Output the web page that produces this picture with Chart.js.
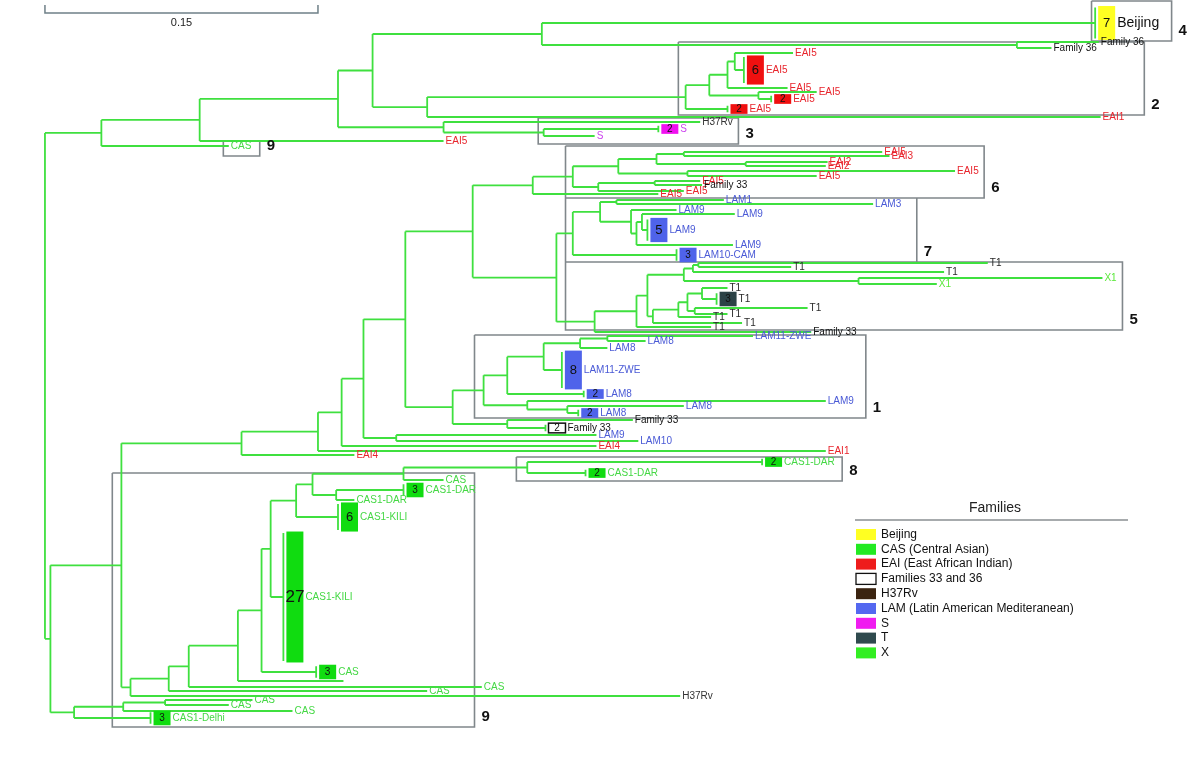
<!DOCTYPE html>
<html>
<head>
<meta charset="utf-8">
<title>Families tree</title>
<script src="https://cdn.jsdelivr.net/npm/chart.js@4.4.1/dist/chart.umd.min.js"></script>
<style>
  html, body { margin: 0; padding: 0; background: #fff; }
  #tree { display: block; }
</style>
</head>
<body>
<canvas id="tree" width="1200" height="781"></canvas>
<script>
// distances are in 0.001 substitutions per site, rows are vertical positions of the tips

// internal nodes (row of an internal node = middle of its children)
const innerIds = [
  'r', 'a1', 'a2', 'a3', 'a4', 'b1', 'b2', 'b3', 'c1', 'c2', 'c3', 'c4', 'c5', 'a9', 'a10',
  'd1', 'd2', 'e1', 'e2', 'e3', 'e4', 'e5', 'g1', 'h1', 'i1', 'i2', 'i3', 'i4', 'i5a', 'i5b', 'i6', 'i7', 'i8',
  'j1', 'j2', 'j3', 'j4', 'j5', 'j6', 'j7', 'l1', 'l2', 'l3', 'l4', 'l5', 'l6', 'l7', 'l8', 'l9', 'l10', 'l11', 'l12',
  'k1', 'k2', 'k3', 'k4', 'k5', 'k5b', 'k6', 'k7', 'k8',
  'f1', 'f2', 'f3', 'f4', 'f5', 'f6', 'f7', 'f8', 'f9', 'f10', 'f11', 'd20', 'd21', 'd22'
];
const innerParents = [
  null, 'r', 'a1', 'a2', 'a3', 'a4', 'b1', 'a4', 'b3', 'c1', 'c2', 'c3', 'c2', 'a3', 'a9',
  'r', 'd1', 'd2', 'e1', 'e2', 'e3', 'e4', 'e4', 'g1', 'h1', 'i1', 'i2', 'i3', 'i4', 'i4', 'i3', 'i2', 'i7',
  'h1', 'j1', 'j2', 'j3', 'j3', 'j5', 'j6', 'j1', 'l1', 'l2', 'l3', 'l4', 'l5', 'l4', 'l3', 'l8', 'l9', 'l10', 'l10',
  'g1', 'k1', 'k2', 'k3', 'k4', 'k5', 'k2', 'k6', 'k1',
  'd2', 'f1', 'f2', 'f3', 'f4', 'f5', 'f6', 'f7', 'f8', 'f9', 'f8', 'd1', 'd20', 'd21'
];
const innerDist = [
  0, 31, 85, 161, 180, 273, 534, 210, 352, 365, 375, 379, 392, 219, 274,
  3, 42, 108, 150, 163, 175, 193, 198, 235, 268, 290, 315, 336, 351, 385, 353, 304, 335,
  281, 290, 305, 314, 322, 325, 328, 302, 325, 331, 351, 356, 359, 447, 334, 348, 353, 361, 357,
  224, 241, 254, 274, 294, 309, 265, 287, 254,
  47, 68, 79, 106, 119, 124, 138, 147, 197, 265, 160, 16, 43, 66
];

// single isolates
const tipParents = [
  'a1', 'a2', 'b2', 'b2', 'b3', 'c3', 'c4', 'c5', 'a9', 'a10',
  'i1', 'i5a', 'i5a', 'i5b', 'i5b', 'i6', 'i6', 'i7', 'i8', 'i8',
  'j4', 'j4', 'j5', 'j6', 'j7', 'l1', 'l2', 'l5', 'l6', 'l6',
  'l7', 'l7', 'l8', 'l9', 'l11', 'l12', 'l12', 'k5', 'k5b', 'k5b',
  'k6', 'k7', 'k8', 'e5', 'e5', 'e3', 'e2', 'e1', 'f1', 'f2',
  'f3', 'f4', 'f9', 'f11', 'd22', 'd22', 'd21'
];
const tipDist = [
  101, 219, 579, 553, 580, 408, 411, 424, 360, 302,
  337, 460, 464, 430, 429, 500, 424, 351, 360, 361,
  373, 455, 347, 378, 379, 421, 366, 494, 518, 410,
  581, 490, 383, 366, 375, 419, 375, 309, 389, 330,
  429, 351, 323, 303, 326, 303, 429, 170, 349, 210,
  240, 164, 219, 170, 114, 101, 136
];
const tipRows = [
  146, 141, 42, 48, 117, 88, 53, 92, 122, 136,
  194, 152, 156, 162, 166, 171, 176, 191, 181, 185,
  200, 204, 210, 245, 214, 332, 327, 272, 263, 267,
  278, 284, 323, 317, 288, 308, 314, 348, 336, 341,
  401, 406, 420, 435, 441, 446, 451, 455, 696, 691,
  687, 681, 480, 500, 700, 705, 711
];
const tipLabels = [
  'CAS', 'EAI5', 'Family 36', 'Family 36', 'EAI1', 'EAI5', 'EAI5', 'EAI5', 'H37Rv', 'S',
  'EAI5', 'EAI5', 'EAI3', 'EAI2', 'EAI2', 'EAI5', 'EAI5', 'EAI5', 'EAI5', 'Family 33',
  'LAM1', 'LAM3', 'LAM9', 'LAM9', 'LAM9', 'Family 33', 'T1', 'T1', 'T1', 'T1',
  'X1', 'X1', 'T1', 'T1', 'T1', 'T1', 'T1', 'LAM8', 'LAM11-ZWE', 'LAM8',
  'LAM9', 'LAM8', 'Family 33', 'LAM9', 'LAM10', 'EAI4', 'EAI1', 'EAI4', 'H37Rv', 'CAS',
  'CAS', '', 'CAS', 'CAS1-DAR', 'CAS', 'CAS', 'CAS'
];

// collapsed clusters of identical isolates
const cladeParents = ['b1', 'c1', 'c4', 'c5', 'a10', 'j2', 'j7', 'l11', 'k3', 'k4', 'k7', 'k8', 'f5', 'f6', 'f7', 'f10', 'f10', 'f11', 'd20'];
const cladeDist = [577, 375, 384, 399, 337, 347, 331, 369, 296, 284, 293, 275, 149, 131, 161, 394, 297, 197, 58];
const cladeRows = [23, 109, 70, 99, 129, 255, 230, 299, 394, 370, 413, 428, 672, 597, 517, 462, 473, 490, 718];
const cladeSizes = [7, 2, 6, 2, 2, 3, 5, 3, 2, 8, 2, 2, 3, 27, 6, 2, 2, 3, 3];
const cladeLabels = ['Beijing', 'EAI5', 'EAI5', 'EAI5', 'S', 'LAM10-CAM', 'LAM9', 'T1', 'LAM8', 'LAM11-ZWE', 'LAM8', 'Family 33',
  'CAS', 'CAS1-KILI', 'CAS1-KILI', 'CAS1-DAR', 'CAS1-DAR', 'CAS1-DAR', 'CAS1-Delhi'];

// numbered groups
const groupNames = ['4', '2', '3', '9', '6', '7', '5', '1', '8', '9'];
const groupLeft = [575, 348, 271, 98, 286, 286, 286, 236, 259, 37];
const groupRight = [619, 604, 381, 118, 516, 479, 592, 451, 438, 236];
const groupTop = [1, 42, 118, 141, 146, 198, 262, 335, 457, 473];
const groupBottom = [41, 115, 144, 156, 198, 262, 330, 418, 481, 727];

const scaleBarLength = 150;
const scaleBarText = '0.15';

const legendLabels = ['Beijing', 'CAS (Central Asian)', 'EAI (East African Indian)', 'Families 33 and 36', 'H37Rv',
  'LAM (Latin American Mediteranean)', 'S', 'T', 'X'];
const legendColors = ['#ffff22', '#22ea22', '#ee1c1c', '#ffffff', '#3b2410', '#5468f0', '#f01cf0', '#2f4a4e', '#33ee22'];

const FONT = '"Liberation Sans", Arial, sans-serif';
const BRANCH_COLOR = '#3fe03f';
const ROW_PER_TIP = 4.85;
const BOX_W = 17;

const textColor = { EAI: '#e8242c', LAM: '#4a5ad6', CAS: '#45d845', X: '#5ce83c', T: '#2a2a2a',
  FAM: '#111111', H37: '#333333', S: '#cc44ee', BEI: '#111111' };
const boxFill = { EAI: '#f01010', LAM: '#4f63ea', CAS: '#10dc10', S: '#f010f0', T: '#2b4246',
  FAM: '#ffffff', BEI: '#ffff22' };

function familyOf(label) {
  if (label.startsWith('EAI')) return 'EAI';
  if (label.startsWith('LAM')) return 'LAM';
  if (label.startsWith('CAS') || label === '') return 'CAS';
  if (label.startsWith('Family')) return 'FAM';
  if (label === 'H37Rv') return 'H37';
  if (label === 'S') return 'S';
  if (label === 'T1') return 'T';
  if (label === 'X1') return 'X';
  return 'BEI';
}

// tree layout
const distOf = {};
const kids = {};
innerIds.forEach((id, i) => { distOf[id] = innerDist[i]; kids[id] = []; });
innerIds.forEach((id, i) => { if (innerParents[i]) kids[innerParents[i]].push({ id: id }); });
tipParents.forEach((p, i) => kids[p].push({ row: tipRows[i] }));
cladeParents.forEach((p, i) => kids[p].push({ row: cladeRows[i] }));

const rowOf = {};
const spanOf = {};
function layout(id) {
  const rows = kids[id].map(k => k.id ? layout(k.id) : k.row);
  const lo = Math.min(...rows);
  const hi = Math.max(...rows);
  spanOf[id] = [lo, hi];
  rowOf[id] = (lo + hi) / 2;
  return rowOf[id];
}
layout('r');

function addSeg(arr, x1, y1, x2, y2) {
  arr.push({ x: x1, y: y1 }, { x: x2, y: y2 }, { x: null, y: null });
}

const branchPts = [];
innerIds.forEach((id, i) => {
  const p = innerParents[i];
  if (p) addSeg(branchPts, distOf[p], rowOf[id], innerDist[i], rowOf[id]);
  addSeg(branchPts, innerDist[i], spanOf[id][0], innerDist[i], spanOf[id][1]);
});
tipParents.forEach((p, i) => addSeg(branchPts, distOf[p], tipRows[i], tipDist[i], tipRows[i]));
cladeParents.forEach((p, i) => {
  addSeg(branchPts, distOf[p], cladeRows[i], cladeDist[i], cladeRows[i]);
  const half = (cladeSizes[i] * ROW_PER_TIP - 3) / 2;
  addSeg(branchPts, cladeDist[i], cladeRows[i] - half, cladeDist[i], cladeRows[i] + half);
});

const groupPts = [];
groupNames.forEach((g, i) => {
  groupPts.push({ x: groupLeft[i], y: groupTop[i] }, { x: groupRight[i], y: groupTop[i] },
    { x: groupRight[i], y: groupBottom[i] }, { x: groupLeft[i], y: groupBottom[i] },
    { x: groupLeft[i], y: groupTop[i] }, { x: null, y: null });
});

const scalePts = [{ x: 0, y: 5 }, { x: 0, y: 13 }, { x: scaleBarLength, y: 13 }, { x: scaleBarLength, y: 5 }];

const treeDecor = {
  id: 'treeDecor',
  afterDatasetsDraw(chart) {
    const ctx = chart.ctx;
    const xs = chart.scales.x;
    const ys = chart.scales.y;
    ctx.save();
    ctx.textBaseline = 'middle';

    // collapsed clusters
    cladeParents.forEach((p, i) => {
      const fam = familyOf(cladeLabels[i]);
      const left = xs.getPixelForValue(cladeDist[i]) + 3;
      const half = cladeSizes[i] * ROW_PER_TIP / 2;
      const top = ys.getPixelForValue(cladeRows[i] - half);
      const bottom = ys.getPixelForValue(cladeRows[i] + half);
      const mid = ys.getPixelForValue(cladeRows[i]);
      ctx.fillStyle = boxFill[fam];
      ctx.fillRect(left, top, BOX_W, bottom - top);
      if (fam === 'FAM') {
        ctx.strokeStyle = '#111';
        ctx.lineWidth = 1.5;
        ctx.strokeRect(left, top, BOX_W, bottom - top);
      }
      const n = cladeSizes[i];
      ctx.font = (n >= 20 ? '17px ' : n >= 5 ? '13px ' : '10px ') + FONT;
      ctx.fillStyle = '#111';
      ctx.textAlign = 'center';
      ctx.fillText(String(n), left + BOX_W / 2, mid + 0.5);
      ctx.textAlign = 'left';
      ctx.font = (fam === 'BEI' ? '14px ' : '10px ') + FONT;
      ctx.fillStyle = textColor[fam];
      ctx.fillText(cladeLabels[i], left + BOX_W + 2, mid);
    });

    // tip labels
    ctx.font = '10px ' + FONT;
    tipLabels.forEach((t, i) => {
      if (!t) return;
      ctx.fillStyle = textColor[familyOf(t)];
      ctx.fillText(t, xs.getPixelForValue(tipDist[i]) + 2, ys.getPixelForValue(tipRows[i]));
    });

    // group numbers
    ctx.font = 'bold 15px ' + FONT;
    ctx.fillStyle = '#111';
    groupNames.forEach((g, i) => {
      ctx.fillText(g, xs.getPixelForValue(groupRight[i]) + 7, ys.getPixelForValue(groupBottom[i]) - 10);
    });

    // scale bar text
    ctx.font = '11px ' + FONT;
    ctx.textAlign = 'center';
    ctx.fillStyle = '#222';
    ctx.fillText(scaleBarText, xs.getPixelForValue(scaleBarLength / 2), ys.getPixelForValue(23));

    // legend box
    ctx.font = '14px ' + FONT;
    ctx.fillText('Families', 995, 508);
    ctx.strokeStyle = '#8a8f92';
    ctx.lineWidth = 1.5;
    ctx.beginPath();
    ctx.moveTo(855, 520);
    ctx.lineTo(1128, 520);
    ctx.stroke();
    ctx.textAlign = 'left';
    ctx.font = '12px ' + FONT;
    legendLabels.forEach((lab, i) => {
      const cy = 534 + i * 14.8;
      ctx.fillStyle = legendColors[i];
      ctx.fillRect(856, cy - 5, 20, 11);
      if (lab.startsWith('Families')) {
        ctx.strokeStyle = '#111';
        ctx.lineWidth = 1.3;
        ctx.strokeRect(856, cy - 5, 20, 11);
      }
      ctx.fillStyle = '#111';
      ctx.fillText(lab, 881, cy + 0.5);
    });
    ctx.restore();
  }
};

new Chart(document.getElementById('tree'), {
  type: 'line',
  data: {
    datasets: [
      { label: 'branches', data: branchPts, borderColor: BRANCH_COLOR, borderWidth: 1.8,
        pointRadius: 0, spanGaps: false, tension: 0, order: 0 },
      { label: 'groups', data: groupPts, borderColor: '#80878b', borderWidth: 1.6,
        pointRadius: 0, spanGaps: false, tension: 0, order: 1 },
      { label: 'scale', data: scalePts, borderColor: '#6f8088', borderWidth: 1.5,
        pointRadius: 0, tension: 0, order: 2 }
    ]
  },
  options: {
    responsive: false,
    animation: false,
    events: [],
    layout: { padding: 0 },
    scales: {
      x: { type: 'linear', display: false, min: -24.7, max: 634.6 },
      y: { type: 'linear', display: false, min: 0, max: 781, reverse: true }
    },
    plugins: {
      legend: { display: false },
      tooltip: { enabled: false }
    }
  },
  plugins: [treeDecor]
});
</script>
</body>
</html>
